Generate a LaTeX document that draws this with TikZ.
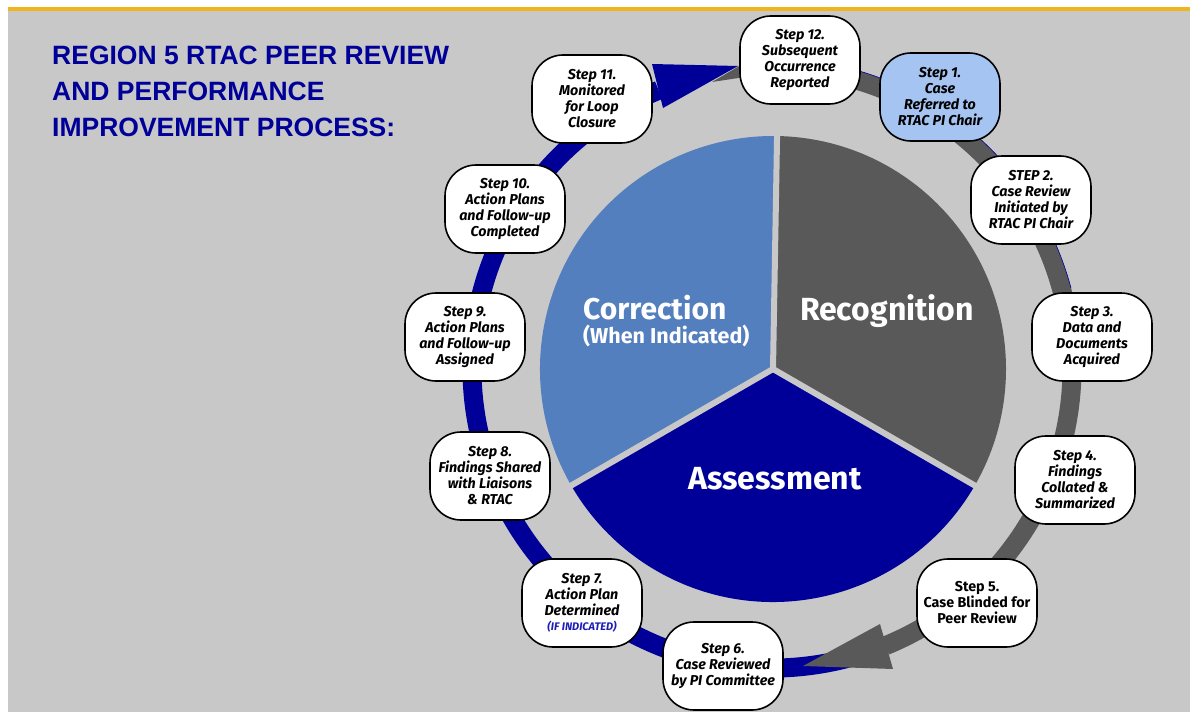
\documentclass[tikz,border=0pt]{standalone}
\usepackage{fontspec}
\setmainfont{Fira Sans}
\newfontfamily\titlefont{Liberation Sans}
\definecolor{bggray}{RGB}{200,200,200}
\definecolor{navy}{RGB}{0,0,153}
\definecolor{piegray}{RGB}{89,89,89}
\definecolor{pieblue}{RGB}{84,127,190}
\definecolor{stepone}{RGB}{166,196,242}
\definecolor{topyellow}{RGB}{242,180,30}
\definecolor{ifblue}{RGB}{30,30,180}
\tikzset{
  stepbox/.style={draw=black, line width=1.6pt, fill=white, rounded corners=31pt,
    minimum width=120pt, minimum height=88pt, inner sep=0pt, align=center,
    font=\fontsize{14.3}{16}\selectfont\bfseries\itshape},
  ringband/.style={line width=19pt},
  pielabel/.style={text=white, inner sep=0pt, font=\bfseries},
}
\begin{document}
\begin{tikzpicture}[x=1pt,y=-1pt]
\useasboundingbox (0,0) rectangle (1194,717);
\fill[white] (0,0) rectangle (1194,717);
\fill[bggray] (8,11) rectangle (1190,712);
\fill[topyellow] (8,7) rectangle (1190,11);

% title
\node[anchor=north west, inner sep=0pt, align=left, text=navy,
  font=\titlefont\bfseries\fontsize{26.5}{36}\selectfont] (title) at (52,46)
  {REGION 5 RTAC PEER REVIEW\\AND PERFORMANCE\\IMPROVEMENT PROCESS:};

% pie
\coordinate (pc) at (773,369);
\fill[piegray] (pc) -- ++(-89:233) arc[start angle=-89, end angle=30, radius=233] -- cycle;
\fill[navy] (pc) -- ++(30:233) arc[start angle=30, end angle=150, radius=233] -- cycle;
\fill[pieblue] (pc) -- ++(150:233) arc[start angle=150, end angle=271, radius=233] -- cycle;
\draw[bggray, line width=6pt] (pc) -- ++(-89:240);
\draw[bggray, line width=6pt] (pc) -- ++(30:240);
\draw[bggray, line width=6pt] (pc) -- ++(150:240);

\node[pielabel, anchor=base, font=\bfseries\fontsize{32}{36}\selectfont] (recog) at (887,320) {Recognition};
\node[pielabel, anchor=base west, font=\bfseries\fontsize{30}{36}\selectfont] (corr) at (583,319) {Correction};
\node[pielabel, anchor=base west, font=\bfseries\fontsize{21.5}{24}\selectfont] (corrsub) at (583,343) {(When Indicated)};
\node[pielabel, anchor=base, font=\bfseries\fontsize{32}{36}\selectfont] (assess) at (775,489) {Assessment};

% ring
\coordinate (rc) at (772,368);
\draw[navy, ringband] (rc) ++(75:300) arc[start angle=75, end angle=247.8, radius=300];
\draw[piegray, ringband] (rc) ++(-93:300) arc[start angle=-93, end angle=67.8, radius=300];
\draw[navy, line width=0.6pt] (rc) ++(-80:309.5) arc[start angle=-80, end angle=-15, radius=309.5];
\fill[piegray] (712,82) -- (741,65) -- (745,77) -- cycle;
\fill[piegray] (880,624) -- (893,669) -- (803,666) -- cycle;
\fill[navy] (652,64) -- (663,108) -- (738,66) -- cycle;

% steps
\node[stepbox] (s12) at (800,60) {Step 12.\\Subsequent\\Occurrence\\Reported};
\node[stepbox, fill=stepone] (s1) at (940,97) {Step 1.\\Case\\Referred to\\RTAC PI Chair};
\node[stepbox] (s2) at (1031,200) {STEP 2.\\Case Review\\Initiated by\\RTAC PI Chair};
\node[stepbox] (s3) at (1092,337) {Step 3.\\Data and\\Documents\\Acquired};
\node[stepbox] (s4) at (1075,480) {Step 4.\\Findings\\Collated \&\\Summarized};
\node[stepbox, font=\fontsize{14.3}{16}\selectfont\bfseries] (s5) at (977,603) {Step 5.\\Case Blinded for\\Peer Review};
\node[stepbox] (s6) at (723,666) {Step 6.\\Case Reviewed\\by PI Committee};
\node[stepbox] (s7) at (582,603) {Step 7.\\Action Plan\\Determined\\[-1pt]{\fontsize{11}{13}\selectfont\color{ifblue}(IF INDICATED)}};
\node[stepbox] (s8) at (490,476) {Step 8.\\Findings Shared\\with Liaisons\\\& RTAC};
\node[stepbox] (s9) at (465,337) {Step 9.\\Action Plans\\and Follow-up\\Assigned};
\node[stepbox] (s10) at (505,209) {Step 10.\\Action Plans\\and Follow-up\\Completed};
\node[stepbox] (s11) at (592,99) {Step 11.\\Monitored\\for Loop\\Closure};
\end{tikzpicture}
\end{document}
